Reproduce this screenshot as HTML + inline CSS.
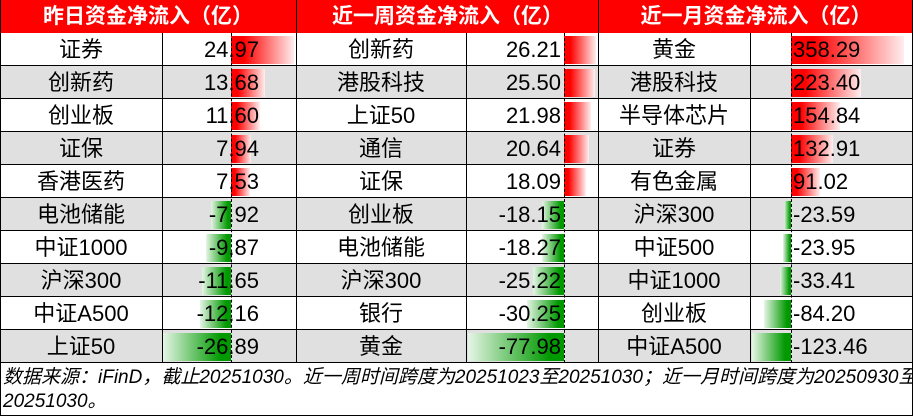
<!DOCTYPE html>
<html><head><meta charset="utf-8"><style>
*{margin:0;padding:0;box-sizing:border-box}
body{width:913px;height:416px;background:#fff;position:relative;overflow:hidden;font-family:"Liberation Sans","Noto Sans CJK SC",sans-serif;color:#000}
.h{position:absolute;top:0;height:33px;background:#f00;color:#fff;font-weight:bold;font-size:21px;line-height:33px;text-align:center}
.r{position:absolute;left:0;width:913px;height:33px;border-bottom:1px solid #000}
.g{background:#e0e0e0}
.t{position:absolute;font-size:22px;line-height:33px;height:33px;white-space:nowrap}
.n{text-align:center}
.v{text-align:right}
.vl{position:absolute;top:0;width:1px;background:#000}
.p{position:absolute;height:28px;background:linear-gradient(to right,#f00,#f00 20%,#fee)}
.m{position:absolute;height:28px;background:linear-gradient(to right,#e6f5e6,#090 85%)}
.ax{position:absolute;width:0;border-left:1px dashed #000;top:33px;height:330px}
.f{position:absolute;left:3px;font-style:italic;font-size:19px;line-height:23px;white-space:nowrap}
</style></head><body>
<div class="r" style="top:33px"></div><div class="r g" style="top:66px"></div><div class="r" style="top:99px"></div><div class="r g" style="top:132px"></div><div class="r" style="top:165px"></div><div class="r g" style="top:198px"></div><div class="r" style="top:231px"></div><div class="r g" style="top:264px"></div><div class="r" style="top:297px"></div><div class="r g" style="top:330px"></div>
<div class="h" style="left:0;width:296px">昨日资金净流入（亿）</div>
<div class="h" style="left:297px;width:301px">近一周资金净流入（亿）</div>
<div class="h" style="left:599px;width:314px">近一月资金净流入（亿）</div>
<div class="p" style="left:231px;top:36px;width:63px"></div>
<div class="p" style="left:231px;top:69px;width:34px"></div>
<div class="p" style="left:231px;top:102px;width:29px"></div>
<div class="p" style="left:231px;top:135px;width:20px"></div>
<div class="p" style="left:231px;top:168px;width:19px"></div>
<div class="m" style="left:211px;top:201px;width:20px"></div>
<div class="m" style="left:206px;top:234px;width:25px"></div>
<div class="m" style="left:202px;top:267px;width:29px"></div>
<div class="m" style="left:200px;top:300px;width:31px"></div>
<div class="m" style="left:163px;top:333px;width:68px"></div>
<div class="p" style="left:564px;top:36px;width:32px"></div>
<div class="p" style="left:564px;top:69px;width:31px"></div>
<div class="p" style="left:564px;top:102px;width:27px"></div>
<div class="p" style="left:564px;top:135px;width:25px"></div>
<div class="p" style="left:564px;top:168px;width:22px"></div>
<div class="m" style="left:542px;top:201px;width:22px"></div>
<div class="m" style="left:542px;top:234px;width:22px"></div>
<div class="m" style="left:533px;top:267px;width:31px"></div>
<div class="m" style="left:527px;top:300px;width:37px"></div>
<div class="m" style="left:468px;top:333px;width:96px"></div>
<div class="p" style="left:791px;top:36px;width:113px"></div>
<div class="p" style="left:791px;top:69px;width:70px"></div>
<div class="p" style="left:791px;top:102px;width:49px"></div>
<div class="p" style="left:791px;top:135px;width:42px"></div>
<div class="p" style="left:791px;top:168px;width:29px"></div>
<div class="m" style="left:784px;top:201px;width:7px"></div>
<div class="m" style="left:783px;top:234px;width:8px"></div>
<div class="m" style="left:780px;top:267px;width:11px"></div>
<div class="m" style="left:764px;top:300px;width:27px"></div>
<div class="m" style="left:752px;top:333px;width:39px"></div>
<div class="ax" style="left:231px"></div><div class="ax" style="left:564px"></div><div class="ax" style="left:791px"></div>
<div class="vl" style="left:0;height:416px"></div>
<div class="vl" style="left:162px;top:33px;height:330px"></div>
<div class="vl" style="left:296px;height:363px"></div>
<div class="vl" style="left:466px;top:33px;height:330px"></div>
<div class="vl" style="left:598px;height:363px"></div>
<div class="vl" style="left:750px;top:33px;height:330px"></div>
<div class="vl" style="left:912px;height:416px"></div>
<div style="position:absolute;left:0;top:415px;width:913px;height:1px;background:#000"></div>
<div class="t n" style="left:0;width:162px;top:33px">证券</div><div class="t v" style="left:163px;width:96px;top:33px">24.97</div>
<div class="t n" style="left:0;width:162px;top:66px">创新药</div><div class="t v" style="left:163px;width:96px;top:66px">13.68</div>
<div class="t n" style="left:0;width:162px;top:99px">创业板</div><div class="t v" style="left:163px;width:96px;top:99px">11.60</div>
<div class="t n" style="left:0;width:162px;top:132px">证保</div><div class="t v" style="left:163px;width:96px;top:132px">7.94</div>
<div class="t n" style="left:0;width:162px;top:165px">香港医药</div><div class="t v" style="left:163px;width:96px;top:165px">7.53</div>
<div class="t n" style="left:0;width:162px;top:198px">电池储能</div><div class="t v" style="left:163px;width:96px;top:198px">-7.92</div>
<div class="t n" style="left:0;width:162px;top:231px">中证1000</div><div class="t v" style="left:163px;width:96px;top:231px">-9.87</div>
<div class="t n" style="left:0;width:162px;top:264px">沪深300</div><div class="t v" style="left:163px;width:96px;top:264px">-11.65</div>
<div class="t n" style="left:0;width:162px;top:297px">中证A500</div><div class="t v" style="left:163px;width:96px;top:297px">-12.16</div>
<div class="t n" style="left:0;width:162px;top:330px">上证50</div><div class="t v" style="left:163px;width:96px;top:330px">-26.89</div>
<div class="t n" style="left:296px;width:170px;top:33px">创新药</div><div class="t v" style="left:467px;width:94px;top:33px">26.21</div>
<div class="t n" style="left:296px;width:170px;top:66px">港股科技</div><div class="t v" style="left:467px;width:94px;top:66px">25.50</div>
<div class="t n" style="left:296px;width:170px;top:99px">上证50</div><div class="t v" style="left:467px;width:94px;top:99px">21.98</div>
<div class="t n" style="left:296px;width:170px;top:132px">通信</div><div class="t v" style="left:467px;width:94px;top:132px">20.64</div>
<div class="t n" style="left:296px;width:170px;top:165px">证保</div><div class="t v" style="left:467px;width:94px;top:165px">18.09</div>
<div class="t n" style="left:296px;width:170px;top:198px">创业板</div><div class="t v" style="left:467px;width:94px;top:198px">-18.15</div>
<div class="t n" style="left:296px;width:170px;top:231px">电池储能</div><div class="t v" style="left:467px;width:94px;top:231px">-18.27</div>
<div class="t n" style="left:296px;width:170px;top:264px">沪深300</div><div class="t v" style="left:467px;width:94px;top:264px">-25.22</div>
<div class="t n" style="left:296px;width:170px;top:297px">银行</div><div class="t v" style="left:467px;width:94px;top:297px">-30.25</div>
<div class="t n" style="left:296px;width:170px;top:330px">黄金</div><div class="t v" style="left:467px;width:94px;top:330px">-77.98</div>
<div class="t n" style="left:598px;width:152px;top:33px">黄金</div><div class="t" style="left:793px;top:33px">358.29</div>
<div class="t n" style="left:598px;width:152px;top:66px">港股科技</div><div class="t" style="left:793px;top:66px">223.40</div>
<div class="t n" style="left:598px;width:152px;top:99px">半导体芯片</div><div class="t" style="left:793px;top:99px">154.84</div>
<div class="t n" style="left:598px;width:152px;top:132px">证券</div><div class="t" style="left:793px;top:132px">132.91</div>
<div class="t n" style="left:598px;width:152px;top:165px">有色金属</div><div class="t" style="left:793px;top:165px">91.02</div>
<div class="t n" style="left:598px;width:152px;top:198px">沪深300</div><div class="t" style="left:793px;top:198px">-23.59</div>
<div class="t n" style="left:598px;width:152px;top:231px">中证500</div><div class="t" style="left:793px;top:231px">-23.95</div>
<div class="t n" style="left:598px;width:152px;top:264px">中证1000</div><div class="t" style="left:793px;top:264px">-33.41</div>
<div class="t n" style="left:598px;width:152px;top:297px">创业板</div><div class="t" style="left:793px;top:297px">-84.20</div>
<div class="t n" style="left:598px;width:152px;top:330px">中证A500</div><div class="t" style="left:793px;top:330px">-123.46</div>
<div class="f" style="top:366px">数据来源：iFinD，截止20251030。近一周时间跨度为20251023至20251030；近一月时间跨度为20250930至</div>
<div class="f" style="top:390px">20251030。</div>
</body></html>
